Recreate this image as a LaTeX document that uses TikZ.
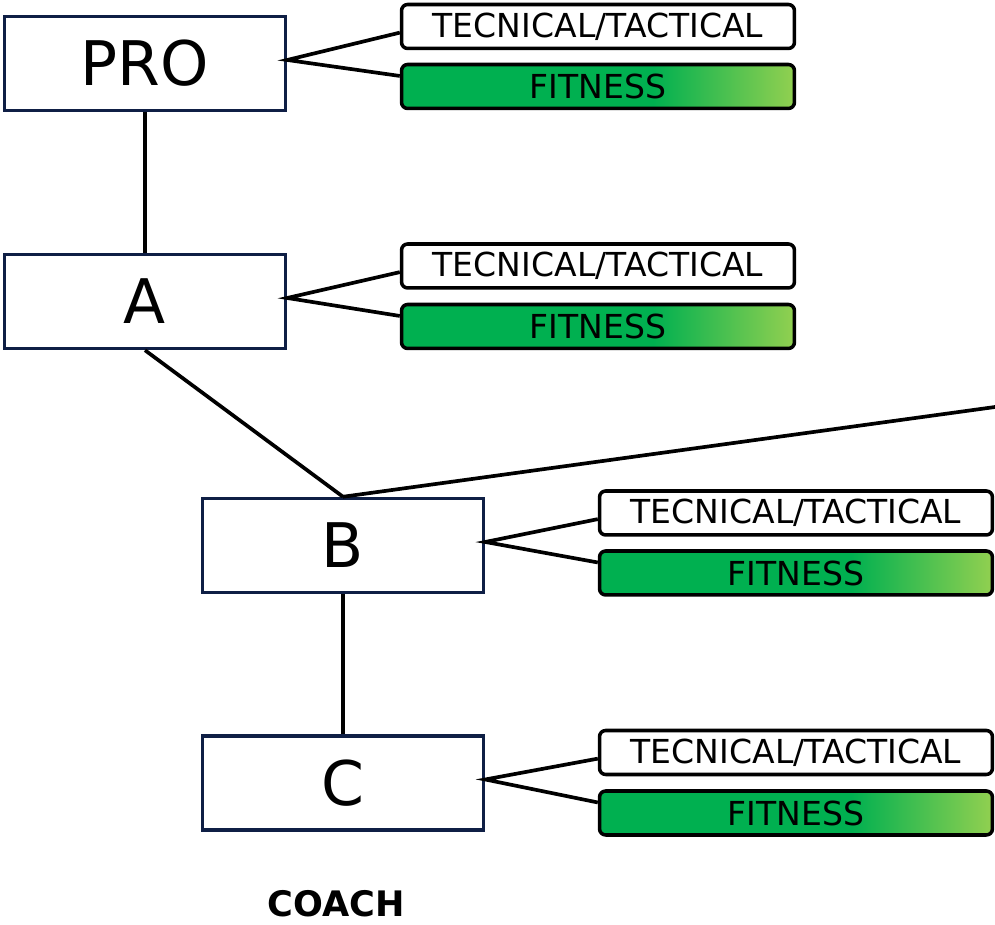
\documentclass[tikz,border=0pt]{standalone}
\usepackage{fontspec}
\setmainfont{DejaVu Sans}
\definecolor{levelblue}{HTML}{0F1F45}
\definecolor{fitgreen}{HTML}{00B050}
\definecolor{fitlight}{HTML}{92D050}
\pgfdeclarehorizontalshading{fitshade}{100bp}{color(0bp)=(fitgreen); color(25bp)=(fitgreen); color(57bp)=(fitgreen); color(75bp)=(fitlight); color(100bp)=(fitlight)}
\tikzset{
  level/.style={draw=levelblue, line width=2pt, fill=white, minimum width=5.62cm, minimum height=1.88cm, inner sep=0pt, font=\fontsize{35}{41}\selectfont},
  area/.style={draw=black, line width=2pt, rounded corners=3.5pt, minimum width=7.86cm, minimum height=0.88cm, inner sep=0pt, font=\fontsize{18.8}{22}\selectfont},
  tecbox/.style={area, fill=white},
  fitbox/.style={area, shade, shading=fitshade},
  link/.style={line width=2.1pt},
}
\begin{document}
\begin{tikzpicture}[x=0.02cm, y=-0.02cm]
\useasboundingbox (0,0) rectangle (995,925);

% levels
\node[level] (pro) at (145,63.5) {PRO};
\node[level] (a) at (145,301.5) {A};
\node[level] (b) at (343,545.5) {B};
\node[level] (c) at (343,783) {C};

% areas
\node[tecbox] (pro-tec) at (598,26.5) {TECNICAL/TACTICAL};
\node[fitbox] (pro-fit) at (598,86.5) {FITNESS};
\node[tecbox] (a-tec) at (598,266) {TECNICAL/TACTICAL};
\node[fitbox] (a-fit) at (598,326.5) {FITNESS};
\node[tecbox] (b-tec) at (796,513) {TECNICAL/TACTICAL};
\node[fitbox] (b-fit) at (796,573) {FITNESS};
\node[tecbox] (c-tec) at (796,752.5) {TECNICAL/TACTICAL};
\node[fitbox] (c-fit) at (796,813) {FITNESS};

\coordinate (far) at (995,407);

\draw[link] (pro.south) -- (a.north);
\draw[link] (a.south) -- (b.north);
\draw[link] (b.north) -- (far);
\draw[link] (b.south) -- (c.north);
\foreach \n in {pro,a,b,c}{
  \draw[link] ([yshift=-3.5pt]\n-tec.west) -- ([yshift=2pt]\n.east) -- ([yshift=6pt]\n-fit.west);
}

\node[font=\bfseries\fontsize{20}{24}\selectfont, anchor=base] (coach) at (336,917) {COACH};
\end{tikzpicture}
\end{document}
